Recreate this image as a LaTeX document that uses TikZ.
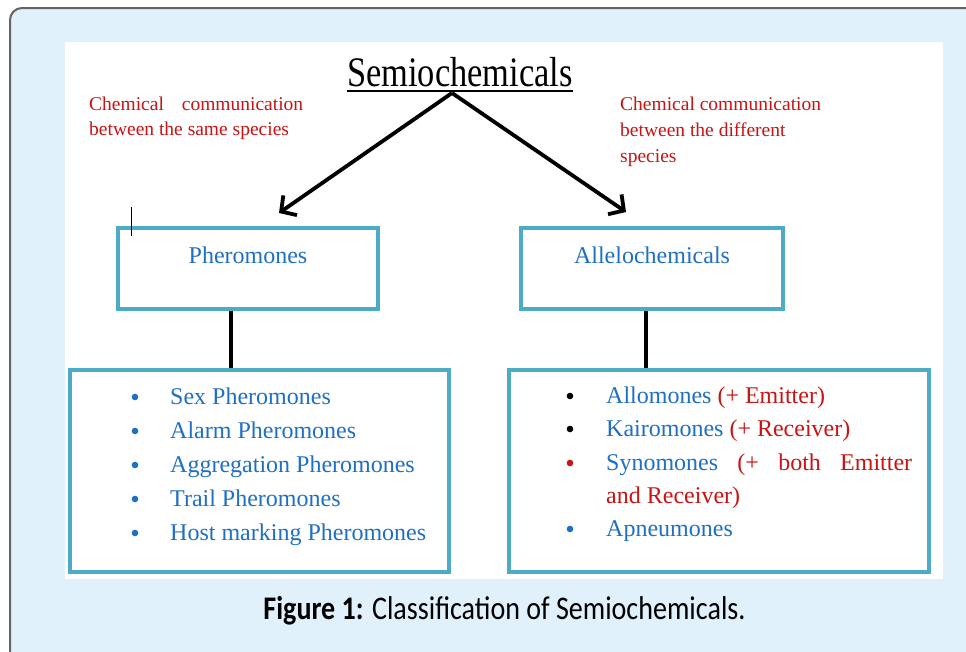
\documentclass[tikz,border=0pt]{standalone}
\usepackage{fontspec}
\setmainfont{Liberation Serif}
\newfontfamily\titlefont[FakeStretch=0.82]{Liberation Serif}
\newfontfamily\capfont[FakeStretch=0.85]{Carlito}
\usetikzlibrary{arrows.meta}
\definecolor{bgblue}{RGB}{224,241,251}
\definecolor{framegray}{RGB}{100,100,100}
\definecolor{boxteal}{RGB}{75,172,198}
\definecolor{txtblue}{RGB}{31,111,196}
\definecolor{txtred}{RGB}{200,20,20}
\begin{document}
\begin{tikzpicture}[x=1pt,y=-1pt,
  box/.style={draw=boxteal, line width=3.8pt, fill=white, inner sep=0pt},
  lbl/.style={font=\fontsize{24}{24}\selectfont, text=txtblue, inner sep=0pt},
  item/.style={font=\fontsize{24}{24}\selectfont, text=txtblue, anchor=base west, inner sep=0pt},
  note/.style={font=\fontsize{19.5}{19.5}\selectfont, text=txtred, anchor=base west, inner sep=0pt},
  arr/.style={line width=3.8pt, -{Straight Barb[length=11pt,width=24pt]}},
  conn/.style={line width=3.5pt}]
\useasboundingbox (0,0) rectangle (966,651);
\clip (0,0) rectangle (966,651);
\fill[white] (0,0) rectangle (966,651);
\draw[framegray, line width=2pt, fill=bgblue, rounded corners=12pt] (10,8) rectangle (1000,700);
\fill[white] (65,42) rectangle (943,579);

% title
\node[anchor=base, inner sep=0pt, font=\titlefont\fontsize{42}{42}\selectfont] (title) at (460,86) {Semiochemicals};
\draw[line width=2pt] ([yshift=-5pt]title.base west) -- ([yshift=-5pt]title.base east);

% notes
\node[note] (nL1) at (89,110) {\hbox to 214pt{Chemical\hfill communication}};
\node[note] (nL2) at (89,135) {between the same species};
\node[note] (nR1) at (620,110) {Chemical communication};
\node[note] (nR2) at (620,136) {between the different};
\node[note] (nR3) at (620,162) {species};

% boxes
\node[box, minimum width=260pt, minimum height=81pt] (pher) at (248,268.5) {};
\node[box, minimum width=262pt, minimum height=81pt] (allo) at (652,268.5) {};
\node[box, minimum width=379pt, minimum height=202pt] (lst) at (259.5,471) {};
\node[box, minimum width=420pt, minimum height=202pt] (rst) at (719,471) {};

\node[lbl, anchor=base] (pherT) at (248,263) {Pheromones};
\node[lbl, anchor=base] (alloT) at (652,263) {Allelochemicals};

% arrows
\coordinate (apex) at (452,93);
\coordinate (tipL) at (279,213);
\coordinate (tipR) at (626,212);
\draw[arr] (apex) -- (tipL);
\draw[arr] (apex) -- (tipR);

% cursor mark
\draw[line width=1pt] (131,207) -- (131,236);

% connectors
\draw[conn] ([xshift=-17pt]pher.south) -- ([xshift=-17pt]pher.south |- lst.north);
\draw[conn] ([xshift=-6pt]allo.south) -- ([xshift=-6pt]allo.south |- rst.north);

% left list
\foreach \t [count=\i] in {Sex Pheromones, Alarm Pheromones, Aggregation Pheromones, Trail Pheromones, Host marking Pheromones}{
  \node[item] (L\i) at (170,{404+34*(\i-1)}) {\t};
  \fill[txtblue] (135,{397+34*(\i-1)}) circle (3.3pt);
}

% right list
\node[item] (R1) at (606,403) {Allomones {\color{txtred}(+ Emitter)}};
\node[item] (R2) at (606,436) {Kairomones {\color{txtred}(+ Receiver)}};
\node[item] (R3) at (606,470) {\hbox to 306pt{Synomones\hfill{\color{txtred}(+}\hfill{\color{txtred}both}\hfill{\color{txtred}Emitter}}};
\node[item, text=txtred] (R4) at (606,503) {and Receiver)};
\node[item] (R5) at (606,536) {Apneumones};
\fill[black] (570,396) circle (3.3pt);
\fill[black] (570,429) circle (3.3pt);
\fill[txtred] (570,463) circle (3.3pt);
\fill[txtblue] (570,529) circle (3.3pt);

% caption
\node[anchor=base, inner sep=0pt, font=\capfont\fontsize{33}{33}\selectfont] (cap) at (504.5,619) {\textbf{Figure 1:} Classification of Semiochemicals.};
\end{tikzpicture}
\end{document}
